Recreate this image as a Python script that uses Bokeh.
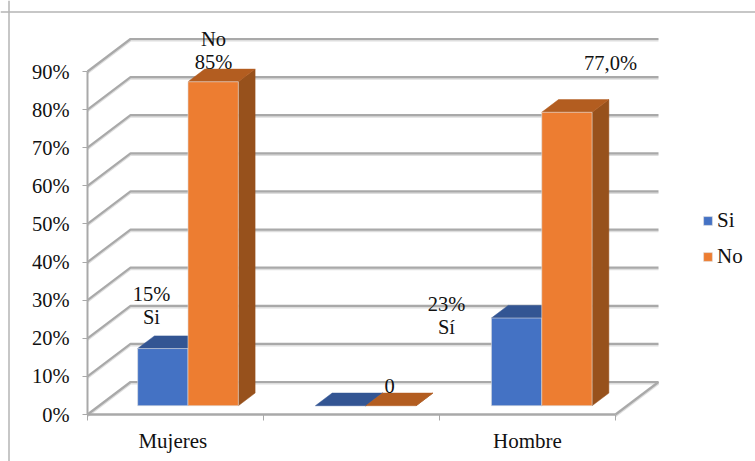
from bokeh.embed import file_html
from bokeh.resources import INLINE
from bokeh.plotting import figure
from bokeh.models import Range1d, FixedTicker, Legend, LegendItem, Span
from bokeh.core.properties import value

# Chart data
categories = ["Mujeres", "", "Hombre"]
series_names = ["Si", "No"]
si_values = [15, 0, 23]
no_values = [85, 0, 77]
y_ticks = [0, 10, 20, 30, 40, 50, 60, 70, 80, 90]
y_labels = ["0%", "10%", "20%", "30%", "40%", "50%", "60%", "70%", "80%", "90%"]
label_texts = [["15%", "Si"], ["No", "85%"], ["0"], ["23%", "Sí"], ["77,0%"]]

W, H = 755, 461
FONT = "Liberation Serif"
GRID = "#a9a9a9"
SHADOW = "#dedede"

# Screen geometry of the front plane: one category and one percent in pixels
X0, Y0 = 87, 414
CAT_PX = 176
PCT_PX = 343 / 90

# Depth of the 3D box, in data units (pixels converted through the scales)
DEPTH_X = 43 / CAT_PX
DEPTH_Y = 32.5 / PCT_PX

BAR_D0, BAR_D1 = 0.27, 0.66
BAR_W = 0.286
CLUSTERS = [0.505, 1.515, 2.515]
LABEL_POS = [0.485, 1.5, 2.5]

p = figure(
    width=W, height=H, output_backend="svg", toolbar_location=None,
    x_range=Range1d(-X0 / CAT_PX, (W - X0) / CAT_PX),
    y_range=Range1d(-(H - Y0) / PCT_PX, Y0 / PCT_PX),
    min_border=0, min_border_left=0, min_border_right=0,
    min_border_top=0, min_border_bottom=0,
    background_fill_color="white", border_fill_color="white",
    outline_line_color=None,
)
p.grid.visible = False


def dpx(px):
    return px / CAT_PX


def dpy(py):
    return py / PCT_PX


# Outer chart frame: only the top and left edges are in view
p.add_layout(Span(location=-X0 / CAT_PX + dpx(8.5), dimension="height",
                  line_color="#b5b5b5", line_width=1.5))
p.add_layout(Span(location=(Y0 - 11.5) / PCT_PX, dimension="width",
                  line_color="#b5b5b5", line_width=1.5))

# Gridlines: side-wall diagonal and back-wall run for every tick
n_cat = len(categories)
xs, ys = [], []
for t in y_ticks:
    xs.append([0, DEPTH_X, n_cat + DEPTH_X])
    ys.append([t, t + DEPTH_Y, t + DEPTH_Y])
# Right edge of the floor
xs.append([n_cat, n_cat + DEPTH_X])
ys.append([0, DEPTH_Y])

p.multi_line(xs, [[v - dpy(1.6) for v in y] for y in ys], line_color=SHADOW, line_width=2)
p.multi_line(xs, ys, line_color=GRID, line_width=2.2)


def draw_series(values, offset, front, top, side):
    left = [c + offset * BAR_W for c in CLUSTERS]
    shift_x0 = BAR_D0 * DEPTH_X
    shift_x1 = BAR_D1 * DEPTH_X
    base0 = BAR_D0 * DEPTH_Y
    base1 = BAR_D1 * DEPTH_Y

    # Right side faces
    sx, sy = [], []
    # Top faces
    tx, ty = [], []
    for l, v in zip(left, values):
        r = l + BAR_W
        sx.append([r + shift_x0, r + shift_x1, r + shift_x1, r + shift_x0])
        sy.append([base0, base1, v + base1, v + base0])
        tx.append([l + shift_x0, r + shift_x0, r + shift_x1, l + shift_x1])
        ty.append([v + base0, v + base0, v + base1, v + base1])
    p.patches(sx, sy, fill_color=side, line_color=side, line_width=0.5)
    p.patches(tx, ty, fill_color=top, line_color=top, line_width=0.5)

    # Front faces, skipped for empty bars
    fx = [l + BAR_W / 2 + shift_x0 for l, v in zip(left, values) if v > 0]
    fb = [base0 for v in values if v > 0]
    ft = [v + base0 for v in values if v > 0]
    return p.vbar(x=fx, width=BAR_W, bottom=fb, top=ft,
                  fill_color=front, line_color="#dfdfdf", line_width=0.6)


blue = draw_series(si_values, -1, "#4472c4", "#335593", "#2f5190")
orange = draw_series(no_values, 0, "#ed7d31", "#b35d20", "#97511c")

# Axes run through the origin of the front plane
yax = p.yaxis[0]
yax.fixed_location = 0
yax.bounds = (y_ticks[0], y_ticks[-1])
yax.ticker = FixedTicker(ticks=y_ticks)
yax.major_label_overrides = dict(zip(y_ticks, y_labels))
yax.axis_line_color = GRID
yax.axis_line_width = 2
yax.major_tick_line_color = GRID
yax.major_tick_out = 5
yax.major_tick_in = 0
yax.minor_tick_line_color = None
yax.major_label_standoff = 13
yax.major_label_text_font = FONT
yax.major_label_text_font_size = "20.5px"
yax.major_label_text_color = "#111111"

xax = p.xaxis[0]
xax.fixed_location = 0
xax.bounds = (0, n_cat)
xax.ticker = FixedTicker(ticks=LABEL_POS, minor_ticks=list(range(n_cat + 1)))
xax.major_label_overrides = dict(zip(LABEL_POS, categories))
xax.axis_line_color = GRID
xax.axis_line_width = 2.4
xax.major_tick_line_color = None
xax.minor_tick_line_color = GRID
xax.minor_tick_out = 6
xax.minor_tick_in = 0
xax.major_label_standoff = 8
xax.major_label_text_font = FONT
xax.major_label_text_font_size = "21px"
xax.major_label_text_color = "#111111"


def add_label(lines, x_px, y_px, gap=23):
    # Position given on screen, converted to data units; lines stack downwards
    for k, line in enumerate(lines):
        p.text(
            x=[(x_px - X0) / CAT_PX], y=[(Y0 - y_px - k * gap) / PCT_PX], text=[line],
            text_font=value(FONT), text_font_size="20.5px", text_color="#111111",
            text_align="center", text_baseline="middle",
        )


add_label(label_texts[0], 151, 293)
add_label(label_texts[1], 213, 38)
add_label(label_texts[2], 389, 385)
add_label(label_texts[3], 446, 303)
add_label(label_texts[4], 610, 62)

legend = Legend(
    items=[LegendItem(label=series_names[0], renderers=[blue]),
           LegendItem(label=series_names[1], renderers=[orange])],
    location=(702, 192), orientation="vertical",
    border_line_color=None, background_fill_alpha=0,
    glyph_width=11, glyph_height=11, spacing=11, padding=6, margin=0,
    label_text_font=FONT, label_text_font_size="21px", label_text_color="#111111",
    label_standoff=4, label_height=19,
)
p.add_layout(legend, "center")

open("out.html", "w").write(file_html(p, INLINE))
